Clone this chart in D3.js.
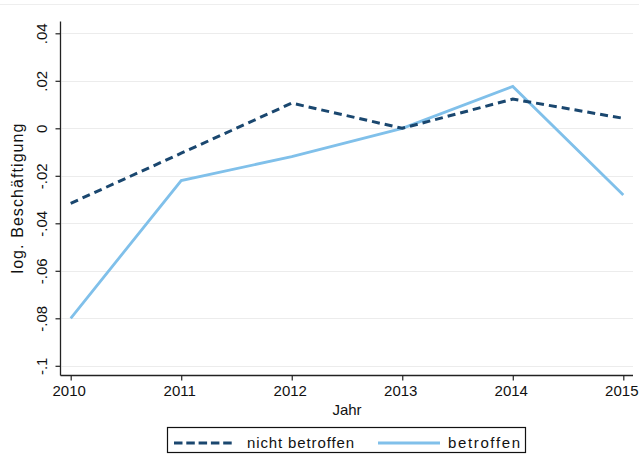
<!DOCTYPE html>
<html>
<head>
<meta charset="utf-8">
<script src="https://cdn.jsdelivr.net/npm/d3@7"></script>
<style>
  html, body { margin: 0; padding: 0; background: #fff; }
  svg { display: block; font-family: "Liberation Sans", Arial, sans-serif; }
</style>
</head>
<body>
<svg id="chart" width="639" height="471"></svg>
<script>
// ---- data ----
const years = [2010, 2011, 2012, 2013, 2014, 2015];
const nichtBetroffen = [-0.0316, -0.0105, 0.0106, 0.0000, 0.0123, 0.0042];
const betroffen = [-0.0800, -0.0220, -0.0119, 0.0000, 0.0176, -0.0281];
const yTicks = [-0.1, -0.08, -0.06, -0.04, -0.02, 0, 0.02, 0.04];
const yTickLabels = ["-.1", "-.08", "-.06", "-.04", "-.02", "0", ".02", ".04"];
const xTitle = "Jahr";
const yTitle = "log. Beschäftigung";
const seriesNames = ["nicht betroffen", "betroffen"];

const navy = "#1a476f";
const lightBlue = "#80c0ea";

const svg = d3.select("#chart");

// faint top border
svg.append("line").attr("x1", 0).attr("x2", 639).attr("y1", 4.5).attr("y2", 4.5)
  .attr("stroke", "#eeeeee").attr("stroke-width", 1);

const x = d3.scaleLinear().domain([2010, 2015]).range([70.7, 623.3]);
const y = d3.scaleLinear().domain([-0.1, 0.04]).range([365.8, 33.3]);

const plotLeft = 60.5, plotRight = 633, plotTop = 21.5, plotBottom = 375.5;

// gridlines
svg.append("g").selectAll("line").data(yTicks).join("line")
  .attr("x1", plotLeft + 1).attr("x2", plotRight)
  .attr("y1", d => Math.round(y(d)) + 0.5).attr("y2", d => Math.round(y(d)) + 0.5)
  .attr("stroke", "#ececec").attr("stroke-width", 1);

// y axis
const yAxis = d3.axisLeft(y).tickValues(yTicks)
  .tickFormat((d, i) => yTickLabels[i]).tickSize(5).tickPadding(4);
const gy = svg.append("g").attr("transform", `translate(${plotLeft},0)`).call(yAxis);
gy.select(".domain").attr("d", `M0,${plotTop}V${plotBottom}`).attr("stroke", "#222").attr("stroke-width", 1.3);
gy.selectAll(".tick line").attr("stroke", "#222").attr("stroke-width", 1.2);
gy.selectAll(".tick text")
  .attr("x", 0).attr("dy", null)
  .attr("transform", "translate(-14,0) rotate(-90)")
  .attr("text-anchor", "middle")
  .attr("fill", "#111")
  .style("font-size", "15px")
  .style("font-family", '"Liberation Sans", Arial, sans-serif');

// x axis
const xAxis = d3.axisBottom(x).tickValues(years).tickFormat(d3.format("d")).tickSize(5).tickPadding(5);
const gx = svg.append("g").attr("transform", `translate(0,${plotBottom})`).call(xAxis);
gx.select(".domain").attr("d", `M${plotLeft},0H${plotRight}`).attr("stroke", "#222").attr("stroke-width", 1.3);
gx.selectAll(".tick line").attr("stroke", "#222").attr("stroke-width", 1.2);
gx.selectAll(".tick text")
  .attr("dx", "-2")
  .attr("fill", "#111")
  .style("font-size", "15px")
  .style("font-family", '"Liberation Sans", Arial, sans-serif');

// axis titles
svg.append("text").attr("x", 347).attr("y", 415).attr("text-anchor", "middle")
  .style("font-size", "15px").attr("fill", "#111").text(xTitle);
svg.append("text").attr("transform", `translate(23,${(plotTop + plotBottom) / 2}) rotate(-90)`)
  .attr("text-anchor", "middle").style("font-size", "16px").attr("fill", "#111")
  .attr("textLength", 150).attr("lengthAdjust", "spacing").text(yTitle);

// lines
const line = d3.line().x((d, i) => x(years[i])).y(d => y(d));
svg.append("path").datum(betroffen).attr("d", line)
  .attr("fill", "none").attr("stroke", lightBlue).attr("stroke-width", 2.8)
  .attr("stroke-linejoin", "miter");
svg.append("path").datum(nichtBetroffen).attr("d", line)
  .attr("fill", "none").attr("stroke", navy).attr("stroke-width", 3)
  .attr("stroke-dasharray", "8,5");

// legend
const lg = svg.append("g");
lg.append("rect").attr("x", 167.5).attr("y", 427.5).attr("width", 358).attr("height", 25)
  .attr("fill", "#fff").attr("stroke", "#111").attr("stroke-width", 1.2);
lg.append("line").attr("x1", 174).attr("x2", 233).attr("y1", 443).attr("y2", 443)
  .attr("stroke", navy).attr("stroke-width", 3).attr("stroke-dasharray", "8.5,3.8");
lg.append("text").attr("x", 247).attr("y", 448).style("font-size", "15px").attr("fill", "#111")
  .attr("textLength", 107).attr("lengthAdjust", "spacing")
  .text(seriesNames[0]);
lg.append("line").attr("x1", 378).attr("x2", 440).attr("y1", 443).attr("y2", 443)
  .attr("stroke", lightBlue).attr("stroke-width", 3);
lg.append("text").attr("x", 448).attr("y", 448).style("font-size", "15px").attr("fill", "#111")
  .attr("textLength", 72).attr("lengthAdjust", "spacing")
  .text(seriesNames[1]);
</script>
</body>
</html>
